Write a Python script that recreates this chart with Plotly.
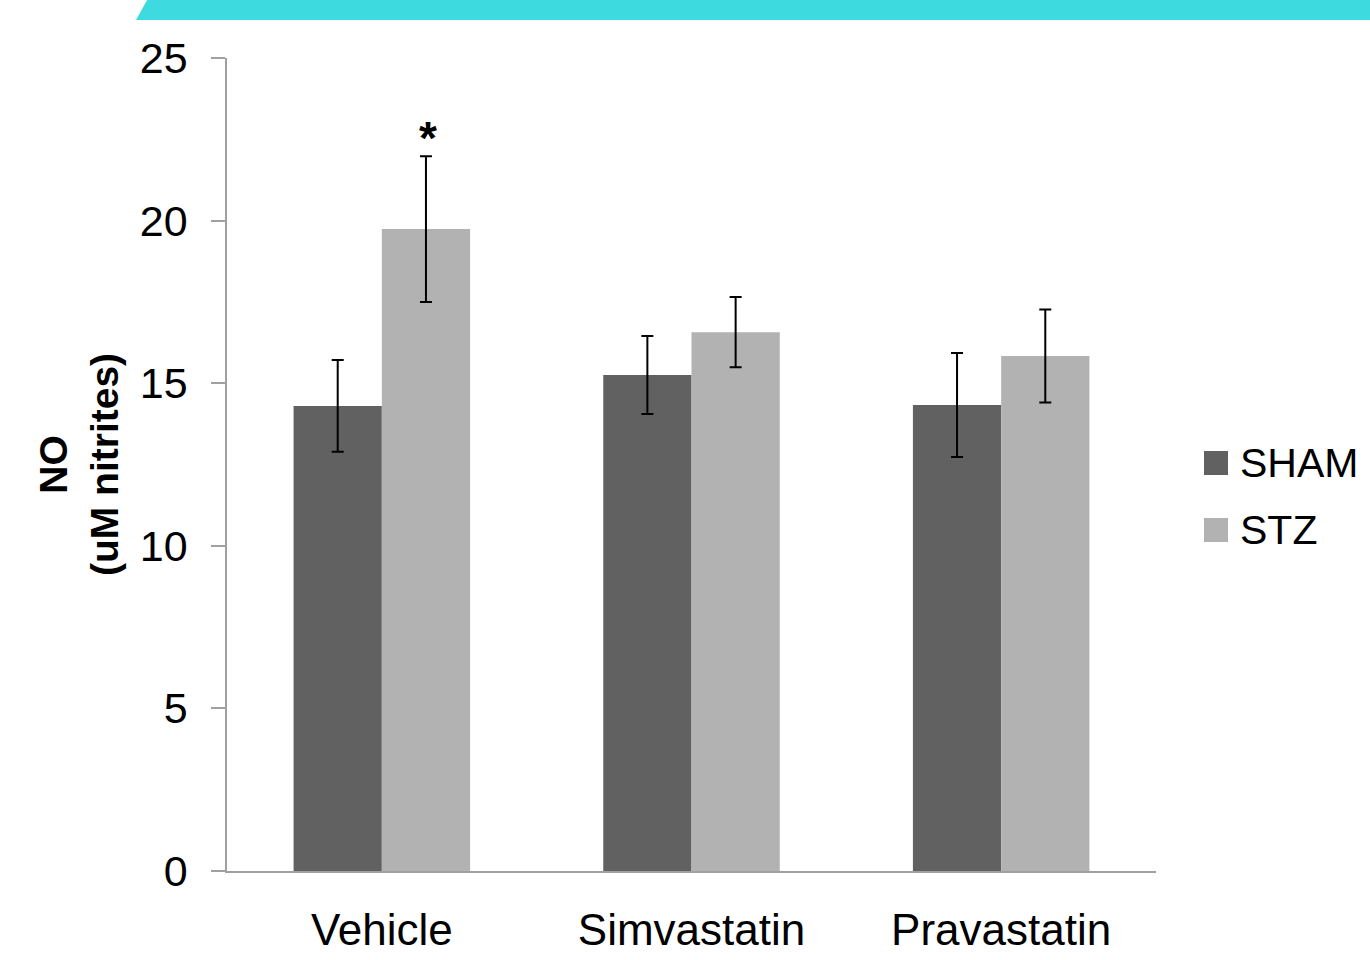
import plotly.graph_objects as go

categories = ["Vehicle", "Simvastatin", "Pravastatin"]
series_names = ["SHAM", "STZ"]
sham_values = [14.3, 15.25, 14.33]
sham_errors = [1.41, 1.2, 1.6]
stz_values = [19.74, 16.57, 15.84]
stz_errors = [2.24, 1.08, 1.43]
y_ticks = [0, 5, 10, 15, 20, 25]

colors = {"SHAM": "#616161", "STZ": "#b2b2b2"}
FONT = "Liberation Sans, Arial, sans-serif"

fig = go.Figure()
for name, vals, errs in [("SHAM", sham_values, sham_errors), ("STZ", stz_values, stz_errors)]:
    fig.add_trace(go.Bar(
        name=name, x=categories, y=vals,
        marker=dict(color=colors[name], line=dict(width=0)),
        error_y=dict(type="data", array=errs, visible=True, color="black", thickness=2, width=6),
        showlegend=False,
    ))

# significance star above Vehicle STZ
fig.add_annotation(x=categories[0], y=stz_values[0] + stz_errors[0], xref="x", yref="y",
                   text="<b>*</b>", showarrow=False, xshift=46, yanchor="bottom", yshift=-10,
                   font=dict(size=46, color="black", family=FONT))

# top banner
fig.add_shape(type="path", xref="paper", yref="paper",
              path="M -0.098,1.0467 L -0.086,1.0713 L 1.24,1.0713 L 1.24,1.0467 Z",
              fillcolor="#3DDBE0", line=dict(width=0), layer="above")

# manual legend
plot_l, plot_w, plot_b, plot_h = 227, 929, 89, 813
def px_x(p):
    return (p - plot_l) / plot_w
def px_y(p):
    return (960 - plot_b - p) / plot_h
for i, name in enumerate(series_names):
    cy = 463 + i * 67
    fig.add_shape(type="rect", xref="paper", yref="paper",
                  x0=px_x(1204), x1=px_x(1228), y0=px_y(cy + 12), y1=px_y(cy - 12),
                  fillcolor=colors[name], line=dict(width=0))
    fig.add_annotation(xref="paper", yref="paper", x=px_x(1238), y=px_y(cy),
                       text=name, showarrow=False, xanchor="left", yanchor="middle",
                       font=dict(size=41, color="black", family=FONT))

fig.update_layout(
    width=1370, height=960,
    margin=dict(l=227, r=214, t=58, b=89),
    paper_bgcolor="white", plot_bgcolor="white",
    barmode="group", bargap=0.43, bargroupgap=0,
    showlegend=False,
    font=dict(family=FONT, color="black"),
)
fig.update_xaxes(
    automargin=False,
    showline=True, linecolor="#a0a0a0", linewidth=1.5,
    ticks="", showgrid=False, tickfont=dict(size=44, color="black"),
    ticklabelstandoff=19,
)
fig.update_yaxes(
    automargin=False,
    range=[0, 25], tickvals=y_ticks, showgrid=False, zeroline=False,
    showline=True, linecolor="#a0a0a0", linewidth=1.5,
    ticks="outside", ticklen=14, tickcolor="#a0a0a0", tickwidth=1.5,
    tickfont=dict(size=43, color="black"), ticklabelstandoff=15,
    title=dict(text="<b>NO<br>(uM nitrites)</b>", font=dict(size=39, color="black"), standoff=9),
)

fig.write_html("out.html", config={"displayModeBar": False},
               post_script="document.body.style.margin='0';document.body.style.overflow='hidden';")
